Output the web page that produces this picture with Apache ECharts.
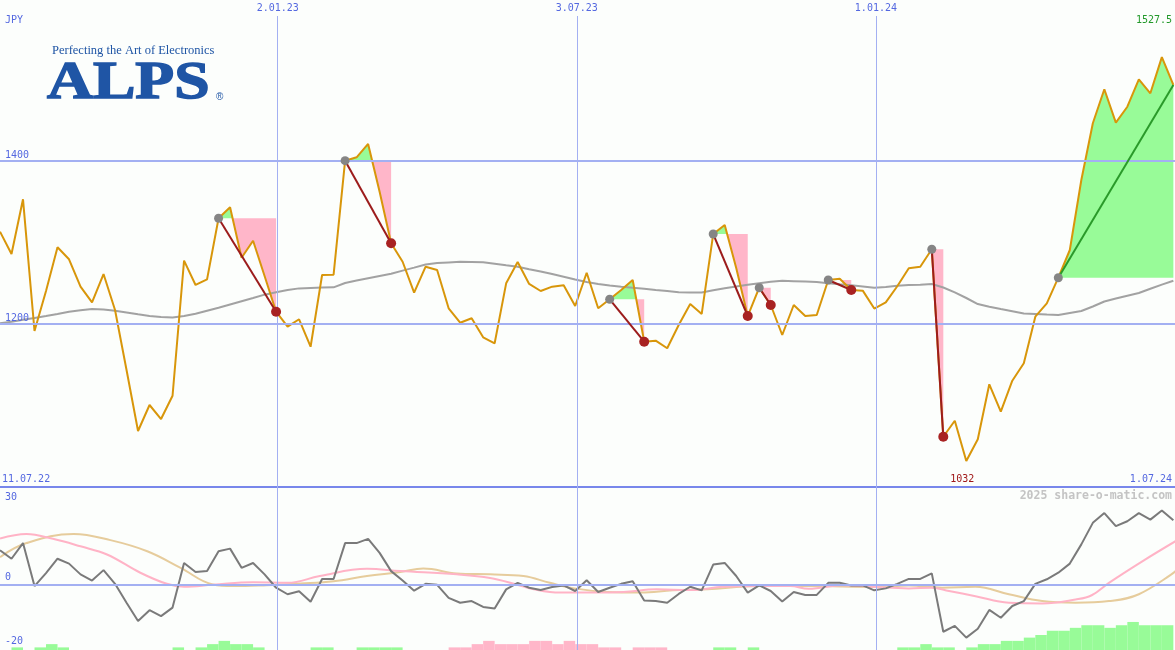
<!DOCTYPE html>
<html><head><meta charset="utf-8">
<script src="https://cdn.jsdelivr.net/npm/echarts@6/dist/echarts.min.js"></script>
<style>html,body{margin:0;padding:0;background:#fcfefc}#c{width:1175px;height:650px}</style>
</head><body><div id="c"></div>
<script>
// ---------- data ----------
const startDate = '2022-07-17';          // first weekly point
const axisEndDate = '2024-07-01';
const gridDates = ['2023-01-02', '2023-07-03', '2024-01-01'];
const gridDateLabels = ['2.01.23', '3.07.23', '1.01.24'];
const firstLabel = '11.07.22';
const lastLabel = '1.07.24';
const currency = 'JPY';
const priceLevels = [1400, 1200];
const oscLevels = [30, 0, -20];

const price = [
  1313.3, 1285.9, 1353.0, 1191.4, 1240.5, 1294.1, 1279.4, 1245.8, 1226.6, 1261.3,
  1217.2, 1143.6, 1068.7, 1100.6, 1083.4, 1112.0, 1277.7, 1247.9, 1254.8, 1329.7,
  1343.2, 1281.3, 1302.2, 1258.9, 1215.1, 1196.7, 1205.8, 1172.1, 1260.1, 1260.5,
  1400.4, 1404.5, 1420.9, 1362.3, 1299.0, 1276.4, 1238.4, 1270.3, 1266.3, 1219.3,
  1201.6, 1207.0, 1183.7, 1176.3, 1249.9, 1276.1, 1249.1, 1240.5, 1245.8, 1247.5,
  1222.1, 1262.9, 1219.3, 1230.3, 1241.7, 1254.0, 1178.3, 1179.5, 1170.2, 1198.8,
  1224.5, 1212.3, 1310.4, 1321.5, 1268.7, 1209.8, 1244.5, 1223.3, 1186.5, 1223.3,
  1209.8, 1211.0, 1254.0, 1255.5, 1241.7, 1240.9, 1219.0, 1226.6, 1246.3, 1268.3,
  1270.3, 1291.7, 1061.7, 1081.3, 1032.0, 1058.5, 1126.0, 1092.4, 1130.4, 1151.8,
  1209.0, 1225.4, 1256.8, 1290.8, 1376.7, 1446.3, 1488.0, 1447.0, 1466.6, 1500.2,
  1483.1, 1527.5, 1493.3
];

const movingAvg = [
  1200.9, 1202.8, 1205.3, 1207.4, 1209.8, 1212.3, 1215.0, 1217.0, 1218.4, 1217.8,
  1216.2, 1214.1, 1211.9, 1209.8, 1208.6, 1208.0, 1209.8, 1212.5, 1216.2, 1219.9,
  1223.9, 1227.9, 1231.9, 1236.0, 1239.0, 1241.7, 1243.7, 1244.2, 1244.7, 1245.0,
  1250.3, 1253.4, 1256.2, 1258.9, 1261.6, 1265.5, 1269.2, 1273.0, 1274.9, 1275.6,
  1276.3, 1276.1, 1275.7, 1273.9, 1272.0, 1270.2, 1267.2, 1264.3, 1261.4, 1258.0,
  1254.6, 1251.5, 1249.2, 1247.2, 1245.8, 1244.5, 1243.3, 1241.8, 1240.5, 1239.0,
  1238.6, 1238.6, 1241.3, 1243.9, 1246.1, 1248.1, 1250.0, 1251.7, 1253.1, 1252.6,
  1252.1, 1251.5, 1250.1, 1248.7, 1247.4, 1246.0, 1244.4, 1245.4, 1246.9, 1247.9,
  1248.3, 1249.1, 1244.8, 1238.7, 1231.9, 1224.5, 1221.2, 1218.4, 1215.7, 1213.0,
  1212.3, 1211.6, 1211.0, 1213.5, 1216.0, 1221.5, 1227.6, 1231.2, 1234.6, 1238.0,
  1243.2, 1248.3, 1253.1
];

const osc = [
  10.6, 8.0, 12.8, -0.4, 3.6, 8.0, 6.5, 3.2, 1.3, 4.5,
  0.3, -5.5, -11.1, -7.8, -9.6, -7.0, 6.7, 3.9, 4.2, 10.3,
  11.1, 5.2, 6.7, 3.2, -0.9, -2.9, -2.0, -5.2, 1.8, 1.8,
  12.8, 12.8, 14.1, 9.8, 4.2, 1.3, -1.8, 0.3, 0.0, -4.0,
  -5.5, -5.0, -6.8, -7.3, -1.4, 0.6, -0.9, -1.6, -0.7, -0.2,
  -1.9, 1.4, -2.2, -0.9, 0.3, 1.1, -4.8, -5.0, -5.5, -2.8,
  -0.6, -1.7, 6.2, 6.7, 2.7, -2.4, -0.2, -1.9, -5.1, -2.2,
  -3.1, -3.1, 0.6, 0.6, -0.2, -0.2, -1.7, -1.1, 0.3, 1.8,
  1.8, 3.5, -14.4, -12.6, -16.2, -13.5, -7.7, -10.1, -6.5, -5.0,
  0.3, 1.7, 3.7, 6.5, 12.4, 19.0, 22.0, 18.0, 19.5, 22.0,
  20.0, 22.8, 19.8
];

// [week, value]
const oscFast = [
  [0,14.2],[2.3,15.6],[4.6,14.1],[7,11.8],[9.3,9.3],[12.2,3.7],[14.5,0.3],[16,-0.6],[18.5,0],
  [22,0.8],[25,0.6],[27.8,2.7],[31.9,4.9],[34.8,4.2],[39.7,3.2],[42.6,2.1],[44.9,0.1],[46.4,-1.4],
  [48.7,-2.4],[51.3,-2.4],[54.2,-2.2],[57.1,-1.4],[60,-1.6],[62.9,-0.6],[65.8,-0.4],[68.7,-0.4],
  [70.3,-1.2],[73.2,-0.1],[76.1,-0.7],[79,-1.1],[81,-0.9],[82.5,-1.9],[84.8,-3.5],[87.7,-5.5],
  [90.6,-5.7],[93.5,-4.5],[94.9,-3.2],[96.4,0.6],[99.3,7.2],[102.2,13.4]
];
const oscSlow = [
  [0,8.5],[2.3,12.8],[6.4,15.6],[9.6,13.7],[12.8,10.3],[15.7,5.2],[18.5,0.1],[20.3,-0.4],
  [23.2,-0.1],[26.1,0.4],[29,1.1],[31.9,2.7],[34.8,3.9],[36.8,5.0],[39.7,3.5],[42.6,3.2],
  [45.5,2.7],[47.8,0.6],[49.9,-1.1],[52.8,-2.2],[55.7,-2.4],[58.5,-1.7],[61.5,-1.4],[65.8,-0.4],
  [70.3,-0.4],[76.1,-0.7],[79,-0.2],[81.9,-0.9],[84.8,-0.6],[87.7,-2.9],[90.6,-5.0],[93.5,-5.5],
  [96.4,-5.0],[99,-2.9],[102.2,4.2]
];

// histogram [week, height above the panel floor]
const barsUp = [
  [1,0.8],[3,0.8],[4,1.8],[5,0.8],[15,0.8],[17,0.8],[18,1.8],[19,2.8],[20,1.8],[21,1.8],[22,0.8],
  [27,0.8],[28,0.8],[31,0.8],[32,0.8],[33,0.8],[34,0.8],[62,0.8],[63,0.8],[65,0.8],
  [78,0.8],[79,0.8],[80,1.8],[81,0.8],[82,0.8],[84,0.8],[85,1.8],[86,1.8],[87,2.8],[88,2.8],
  [89,3.8],[90,4.6],[91,5.9],[92,5.9],[93,6.8],[94,7.6],[95,7.6],[96,6.8],[97,7.6],[98,8.6],
  [99,7.6],[100,7.6],[101,7.6]
];
const barsDown = [
  [39,0.8],[40,0.8],[41,1.8],[42,2.8],[43,1.8],[44,1.8],[45,1.8],[46,2.8],[47,2.8],[48,1.8],
  [49,2.8],[50,1.8],[51,1.8],[52,0.8],[53,0.8],[55,0.8],[56,0.8],[57,0.8]
];

// [entry week, exit week, open?]
const trades = [[19,24,0],[30,34,0],[53,56,0],[62,65,0],[66,67,0],[72,74,0],[81,82,0],[92,102,1]];

// ---------- helpers ----------
const DAY = 864e5;
const t0 = Date.parse(startDate);
const tEnd = Date.parse(axisEndDate);
const wk = k => t0 + k * 7 * DAY;

const FONT = 'DejaVu Sans Mono';
const BLUE_TXT = '#5468e0';
const GRID_LINE = '#a3b0f2';

const chart = echarts.init(document.getElementById('c'), null, {renderer: 'canvas'});

function tradeGeometry(e, x) {
  const level = price[e];
  const pts = [];
  for (let k = e; k <= x; k++) {
    pts.push([k, price[k]]);
    if (k < x) {
      const a = price[k] - level, b = price[k + 1] - level;
      if (a * b < 0) pts.push([k + a / (a - b), level]);
    }
  }
  const up = pts.map(([k, p]) => [k, Math.max(p, level)]);
  const dn = pts.map(([k, p]) => [k, Math.min(p, level)]);
  up.push([x, level]); dn.push([x, level]);
  return {level, up, dn};
}

const option = {
  backgroundColor: '#fcfefc',
  animation: false,
  grid: [
    {left: 0, right: 0, top: 16, height: 471},
    {left: 0, right: 0, top: 487, height: 163}
  ],
  xAxis: [
    {type: 'value', gridIndex: 0, min: t0, max: tEnd,
     axisLine: {show: true, onZero: false, lineStyle: {color: '#7887eb', width: 2}},
     axisTick: {show: false}, axisLabel: {show: false}, splitLine: {show: false}},
    {type: 'value', gridIndex: 1, min: t0, max: tEnd, show: false, splitLine: {show: false}}
  ],
  yAxis: [
    {type: 'value', gridIndex: 0, min: 1000, max: 1577.9, show: false, splitLine: {show: false}},
    {type: 'value', gridIndex: 1, min: -20, max: 30, show: false, splitLine: {show: false}}
  ],
  series: [
    // grid lines main panel
    {
      type: 'line', xAxisIndex: 0, yAxisIndex: 0, data: [], z: 1, silent: true,
      markLine: {
        silent: true, symbol: ['none', 'none'], animation: false,
        data: [
          ...priceLevels.map(v => ({yAxis: v, name: String(v),
            lineStyle: {color: GRID_LINE, width: 2, type: 'solid'},
            label: {show: true, position: 'insideStartTop', formatter: '{b}', distance: [5, 1],
                    color: BLUE_TXT, fontFamily: FONT, fontSize: 10}})),
          ...gridDates.map((d, i) => ({xAxis: Date.parse(d), name: gridDateLabels[i],
            lineStyle: {color: GRID_LINE, width: 1, type: 'solid'},
            label: {show: true, position: 'end', formatter: '{b}', distance: 3,
                    color: BLUE_TXT, fontFamily: FONT, fontSize: 10}}))
        ]
      }
    },
    // grid lines lower panel
    {
      type: 'line', xAxisIndex: 1, yAxisIndex: 1, data: [], z: 1, silent: true,
      markLine: {
        silent: true, symbol: ['none', 'none'], animation: false,
        data: [
          ...gridDates.map(d => ({xAxis: Date.parse(d),
            lineStyle: {color: GRID_LINE, width: 1, type: 'solid'}, label: {show: false}})),
          ...oscLevels.map(v => ({yAxis: v, name: String(v),
            lineStyle: {color: v === 0 ? GRID_LINE : 'rgba(0,0,0,0)', width: v === 0 ? 2 : 1, type: 'solid'},
            label: {show: true, position: v === 30 ? 'insideStartBottom' : 'insideStartTop',
                    distance: v === 30 ? [5, 5] : (v === 0 ? [5, 2] : [5, 4]),
                    formatter: '{b}', color: BLUE_TXT, fontFamily: FONT, fontSize: 10}}))
        ]
      }
    },
    // trade areas
    {
      type: 'custom', xAxisIndex: 0, yAxisIndex: 0, z: 2, silent: true,
      data: trades.map((t, i) => [wk(t[0]), price[t[0]], i]),
      renderItem: function (params, api) {
        const [e, x] = trades[params.dataIndex];
        const g = tradeGeometry(e, x);
        const toPx = arr => arr.map(([k, p]) => api.coord([wk(k), p]));
        return {
          type: 'group',
          children: [
            {type: 'polygon', shape: {points: toPx(g.up)}, style: {fill: '#98fb98'}},
            {type: 'polygon', shape: {points: toPx(g.dn)}, style: {fill: '#ffb6c9'}}
          ]
        };
      }
    },
    // moving average
    {
      type: 'line', xAxisIndex: 0, yAxisIndex: 0, z: 3, silent: true, showSymbol: false,
      data: movingAvg.map((v, k) => [wk(k), v]),
      lineStyle: {color: '#a2a2a2', width: 2}
    },
    // price
    {
      type: 'line', xAxisIndex: 0, yAxisIndex: 0, z: 4, silent: true, showSymbol: false,
      data: price.map((v, k) => [wk(k), v]),
      lineStyle: {color: '#d8960a', width: 2}
    },
    // trade lines & dots
    {
      type: 'custom', xAxisIndex: 0, yAxisIndex: 0, z: 5, silent: true,
      data: trades.map((t, i) => [wk(t[0]), price[t[0]], i]),
      renderItem: function (params, api) {
        const [e, x, open] = trades[params.dataIndex];
        const a = api.coord([wk(e), price[e]]);
        const b = api.coord([wk(x), price[x]]);
        const children = [
          {type: 'line', shape: {x1: a[0], y1: a[1], x2: b[0], y2: b[1]},
           style: {stroke: open ? '#2a9a2a' : '#9c1c1c', lineWidth: 2}},
          {type: 'circle', shape: {cx: a[0], cy: a[1], r: 4.5}, style: {fill: '#858585'}}
        ];
        if (!open) children.push({type: 'circle', shape: {cx: b[0], cy: b[1], r: 5}, style: {fill: '#a82222'}});
        return {type: 'group', children};
      }
    },
    // histogram
    {
      type: 'custom', xAxisIndex: 1, yAxisIndex: 1, z: 2, silent: true,
      data: barsUp.map(b => [wk(b[0]), b[1], 1]).concat(barsDown.map(b => [wk(b[0]), b[1], 0])),
      renderItem: function (params, api) {
        const t = api.value(0), h = api.value(1), up = api.value(2);
        const p0 = api.coord([t, -20]);
        const p1 = api.coord([t + 7 * DAY, -20 + h]);
        return {type: 'rect', shape: {x: p0[0], y: p1[1], width: p1[0] - p0[0], height: p0[1] - p1[1]},
                style: {fill: up ? '#98fb98' : '#ffb6c9'}};
      }
    },
    {
      type: 'line', xAxisIndex: 1, yAxisIndex: 1, z: 3, silent: true, showSymbol: false, smooth: 0.4,
      data: oscSlow.map(([k, v]) => [wk(k), v]),
      lineStyle: {color: '#e6cc9c', width: 2}
    },
    {
      type: 'line', xAxisIndex: 1, yAxisIndex: 1, z: 3, silent: true, showSymbol: false, smooth: 0.4,
      data: oscFast.map(([k, v]) => [wk(k), v]),
      lineStyle: {color: '#ffb3c6', width: 2}
    },
    {
      type: 'line', xAxisIndex: 1, yAxisIndex: 1, z: 4, silent: true, showSymbol: false,
      data: osc.map((v, k) => [wk(k), v]),
      lineStyle: {color: '#7a7a7a', width: 2}
    }
  ]
};
chart.setOption(option);

// texts
const maxP = Math.max(...price), minP = Math.min(...price);
const minK = price.indexOf(minP);
const minPx = chart.convertToPixel({xAxisIndex: 0, yAxisIndex: 0}, [wk(minK), minP]);
const logoBlue = '#1f55a5';
chart.setOption({
  graphic: [
    {type: 'text', x: 5, y: 20, z: 10, style: {text: currency, fontFamily: FONT, fontSize: 10, fill: BLUE_TXT, verticalAlign: 'middle'}},
    {type: 'text', x: 1172, y: 20, z: 10, style: {text: String(maxP), fontFamily: FONT, fontSize: 10, fill: '#22992a', align: 'right', verticalAlign: 'middle'}},
    {type: 'text', x: 2, y: 479, z: 10, style: {text: firstLabel, fontFamily: FONT, fontSize: 10, fill: BLUE_TXT, verticalAlign: 'middle'}},
    {type: 'text', x: 1172, y: 479, z: 10, style: {text: lastLabel, fontFamily: FONT, fontSize: 10, fill: BLUE_TXT, align: 'right', verticalAlign: 'middle'}},
    {type: 'text', x: minPx[0] - 4, y: 479, z: 10, style: {text: String(minP), fontFamily: FONT, fontSize: 10, fill: '#a01818', align: 'center', verticalAlign: 'middle'}},
    {type: 'text', x: 1172, y: 496, z: 10, style: {text: '2025 share-o-matic.com', fontFamily: FONT, fontSize: 11.5, fontWeight: 'bold', fill: '#c4c4c4', align: 'right', verticalAlign: 'middle'}},
    {type: 'text', x: 52, y: 51, z: 10, style: {text: 'Perfecting the Art of Electronics', fontFamily: 'Liberation Serif', fontSize: 12.5, fill: logoBlue, verticalAlign: 'middle'}},
    {type: 'text', x: 47, y: 84, z: 10, scaleX: 1.2, style: {text: 'ALPS', fontFamily: 'Liberation Serif', fontWeight: 'bold', fontSize: 53, fill: logoBlue, stroke: logoBlue, lineWidth: 1.5, verticalAlign: 'middle'}},
    {type: 'text', x: 216, y: 97, z: 10, style: {text: '®', fontFamily: 'Liberation Sans', fontSize: 10, fill: logoBlue, verticalAlign: 'middle'}}
  ]
});
</script>
</body></html>
